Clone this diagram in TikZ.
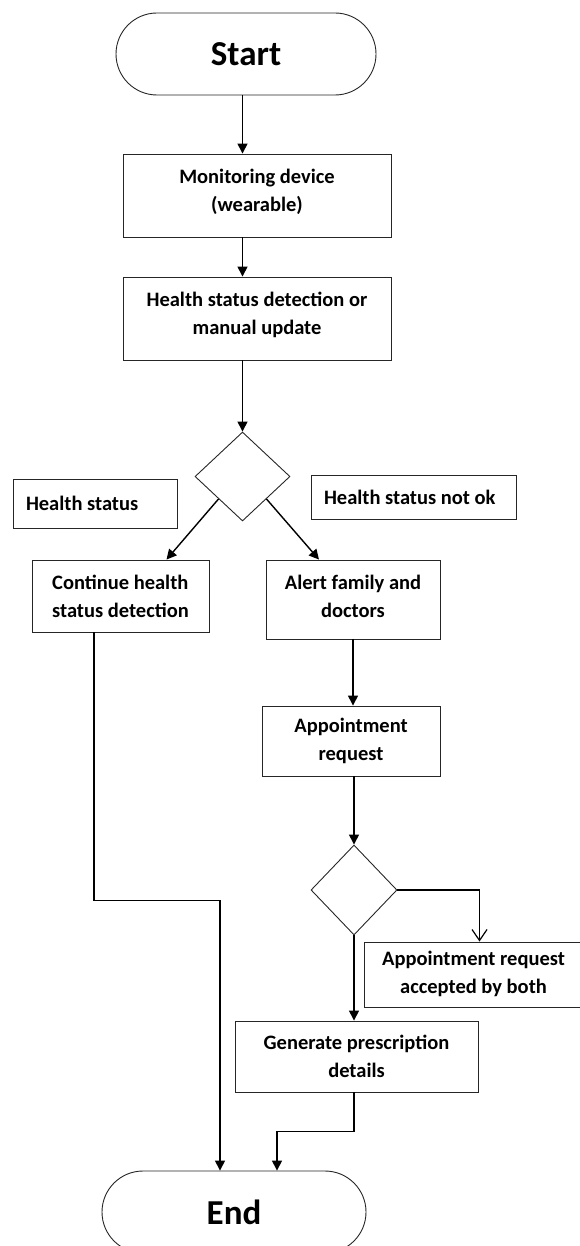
\documentclass[tikz,border=0pt]{standalone}
\usepackage{fontspec}
\setmainfont{Carlito}
\usetikzlibrary{shapes.geometric,arrows.meta}

\begin{document}
\begin{tikzpicture}[x=1pt,y=-1pt,
  font=\fontsize{20.5}{28}\selectfont\bfseries,
  base/.style={draw=black!85,line width=0.9pt},
  term/.style={base,rounded corners=41pt,minimum width=260pt,minimum height=82pt,
    font=\fontsize{35}{40}\selectfont\bfseries},
  proc/.style={base,align=center,inner sep=0pt},
  note/.style={base,inner xsep=13pt,inner ysep=0pt},
  cond/.style={base,diamond,inner sep=0pt},
  arr/.style={line width=1.4pt,-{Triangle[length=10pt,width=10pt]}},
  openarr/.style={line width=1.2pt,-{Straight Barb[length=11pt,width=15pt]}}]
  \useasboundingbox (0,0) rectangle (579,1246);
  % main column
  \node[term] (start) at (246,54) {Start};
  \node[proc,minimum width=268pt,minimum height=83pt] (mon) at (257,195.5)
    {\raisebox{10pt}{Monitoring device}\\\raisebox{10pt}{(wearable)}};
  \node[proc,minimum width=268pt,minimum height=83pt] (det) at (257,318.5)
    {\raisebox{10pt}{Health status detection or}\\\raisebox{10pt}{manual update}};
  \node[cond,minimum width=95pt,minimum height=89pt] (dec1) at (242.5,476.5) {};
  % branch labels
  \node[note,minimum height=49pt] (ok) at (95,503.5)
    {\makebox[138pt][l]{Health status}};
  \node[note,minimum height=44pt] (nok) at (413.5,497)
    {\makebox[179pt][l]{Health status not ok}};
  \node[proc,align=left,minimum width=177pt,minimum height=72pt] (cont) at (120.5,596)
    {Continue health\\status detection};
  \node[proc,minimum width=174pt,minimum height=79pt] (alert) at (353,599.5)
    {\raisebox{6pt}{Alert family and}\\\raisebox{6pt}{doctors}};
  \node[proc,minimum width=178pt,minimum height=70pt] (appt) at (351,741)
    {Appointment\\request};
  \node[cond,minimum width=86pt,minimum height=90pt] (dec2) at (354,890) {};
  \node[proc,minimum width=219pt,minimum height=65pt] (acc) at (473.5,974.5)
    {\raisebox{4pt}{Appointment request}\\\raisebox{4pt}{accepted by both}};
  \node[proc,minimum width=243pt,minimum height=71pt] (gen) at (356.5,1056.5)
    {Generate prescription\\details};
  \node[term,minimum width=264pt] (end) at (234,1212) {End};
  % connectors
  \draw[arr] (dec1.north |- start.south) -- (dec1.north |- mon.north);
  \draw[arr] (dec1.north |- mon.south) -- (dec1.north |- det.north);
  \draw[arr] (dec1.north |- det.south) -- (dec1.north);
  \draw[arr] (dec1.south west) -- ([xshift=46pt]cont.north);
  \draw[arr] (dec1.south east) -- ([xshift=-34pt]alert.north);
  \draw[arr] (alert.south) -- (alert.south |- appt.north);
  \draw[arr] (dec2.north |- appt.south) -- (dec2.north);
  \draw[openarr] (dec2.east) -| ([xshift=6pt]acc.north);
  \draw[arr] (dec2.south) -- (dec2.south |- gen.north);
  \draw[arr] (dec2.south |- gen.south) -- ++(0,39) -| ([xshift=43pt]end.north);
  \draw[arr] ([xshift=-26.5pt]cont.south) -- ++(0,268) -| ([xshift=-14pt]end.north);
\end{tikzpicture}
\end{document}
